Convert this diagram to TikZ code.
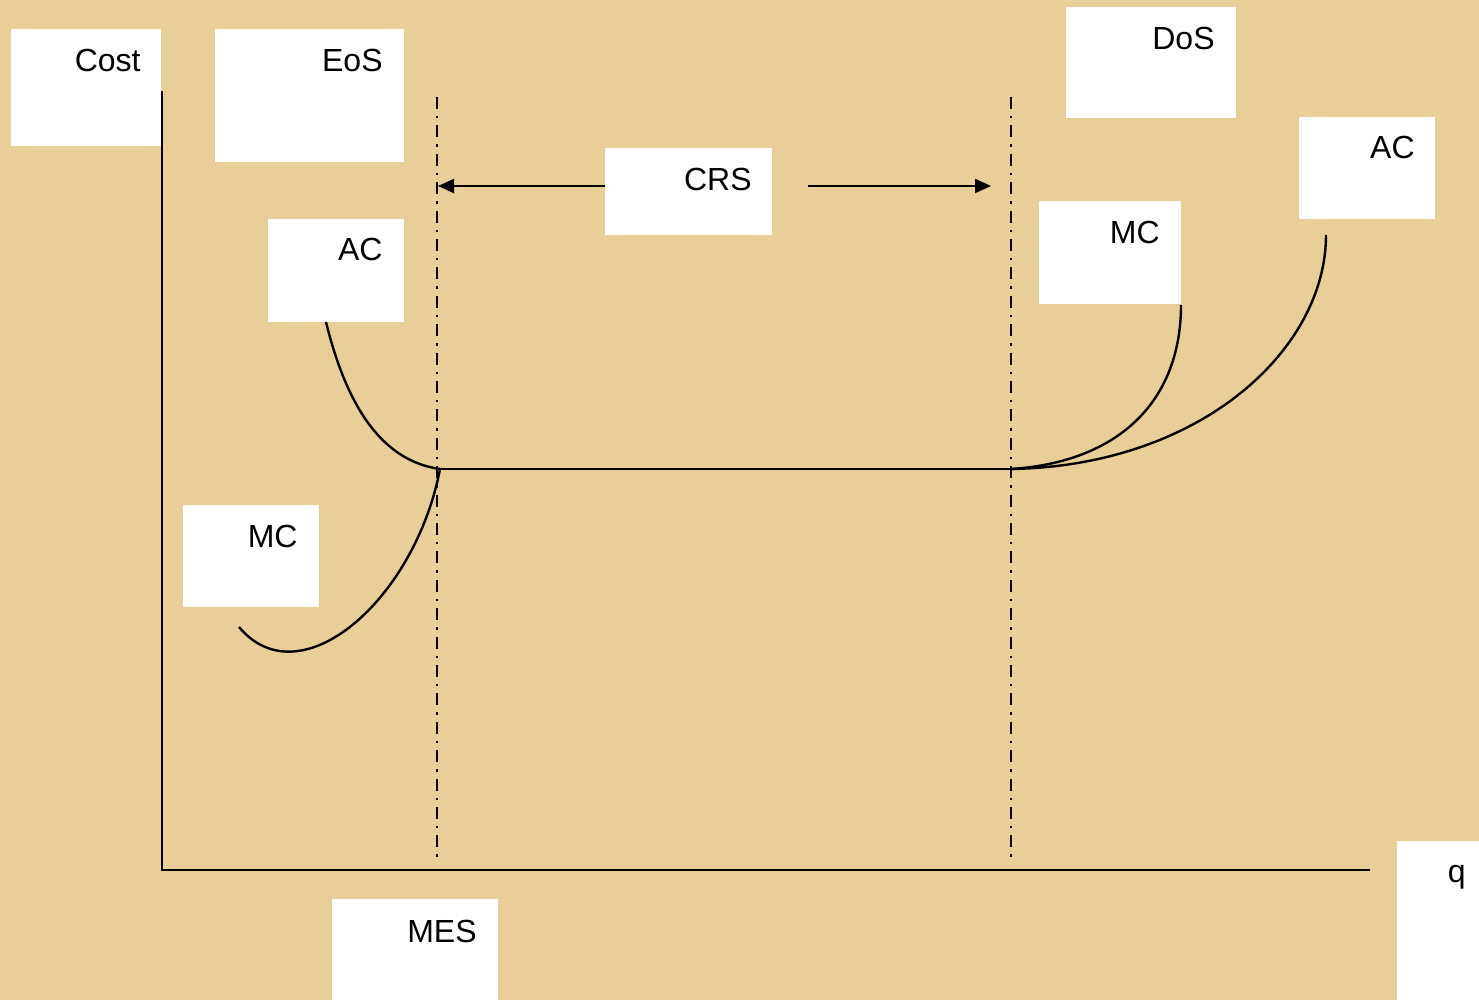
\documentclass[tikz,border=0pt]{standalone}
\usepackage{fontspec}
\setmainfont{Liberation Sans}
\usetikzlibrary{arrows.meta}
\definecolor{papyrus}{HTML}{E8CF98}
\begin{document}
\begin{tikzpicture}[x=0.5pt,y=-0.5pt,
  box/.style={fill=white,draw=none,inner sep=0pt},
  lbl/.style={anchor=base east,inner sep=0pt,font=\fontsize{16}{19}\selectfont},
  axis/.style={line width=1.2pt},
  curve/.style={line width=1.2pt},
  guide/.style={line width=1.2pt,dash pattern=on 6pt off 3.5pt on 1.2pt off 3.5pt},
  crsarrow/.style={line width=1pt,-{Triangle[length=8pt,width=7pt]}}]
\fill[papyrus] (0,0) rectangle (1479,1000);
\useasboundingbox (0,0) rectangle (1479,1000);
% boxes
\path[box] (11,29) rectangle (161,146) coordinate (costbox);
\path[box] (215,29) rectangle (404,162) coordinate (eosbox);
\path[box] (1066,7) rectangle (1236,118) coordinate (dosbox);
\path[box] (1299,117) rectangle (1435,219) coordinate (acrbox);
\path[box] (605,148) rectangle (772,235) coordinate (crsbox);
\path[box] (1039,201) rectangle (1181,304) coordinate (mcrbox);
\path[box] (268,219) rectangle (404,322) coordinate (aclbox);
\path[box] (183,505) rectangle (319,607) coordinate (mclbox);
\path[box] (332,899) rectangle (498,1000) coordinate (mesbox);
\path[box] (1397,841) rectangle (1479,1000) coordinate (qbox);
% labels
\node[lbl] (cost) at (141,72) {Cost};
\node[lbl] (eos) at (383,72) {EoS};
\node[lbl] (dos) at (1215,50) {DoS};
\node[lbl] (acr) at (1415,159) {AC};
\node[lbl] (crs) at (752,191) {CRS};
\node[lbl] (mcr) at (1160,244) {MC};
\node[lbl] (acl) at (383,261) {AC};
\node[lbl] (mcl) at (298,547) {MC};
\node[lbl] (mes) at (477,942) {MES};
\node[lbl] (q) at (1466,882) {q};
% coordinates
\coordinate (ytop) at (162,91);
\coordinate (origin) at (162,870);
\coordinate (xend) at (1370,870);
\coordinate (mesTop) at (437,97);
\coordinate (mesBot) at (437,862);
\coordinate (dosTop) at (1011,97);
\coordinate (dosBot) at (1011,862);
\coordinate (crsL) at (605,186);
\coordinate (crsLend) at (438,186);
\coordinate (crsR) at (808,186);
\coordinate (crsRend) at (991,186);
\coordinate (mesPt) at (440,469);
\coordinate (dosPt) at (1011,469);
% axes
\draw[axis] (ytop) -- (origin) -- (xend);
% guides
\draw[guide] (mesTop) -- (mesBot);
\draw[guide] (dosTop) -- (dosBot);
% CRS arrows
\draw[crsarrow] (crsL) -- (crsLend);
\draw[crsarrow] (crsR) -- (crsRend);
% curves
\draw[curve] (326,322) .. controls (350,420) and (390,462) .. (mesPt);
\draw[curve] (239,627) .. controls (300,700) and (415,600) .. (mesPt);
\draw[curve] (mesPt) -- (dosPt);
\draw[curve] (dosPt) .. controls (1120,462) and (1181,400) .. (1181,305);
\draw[curve] (dosPt) .. controls (1200,466) and (1326,350) .. (1326,235);
\end{tikzpicture}
\end{document}
